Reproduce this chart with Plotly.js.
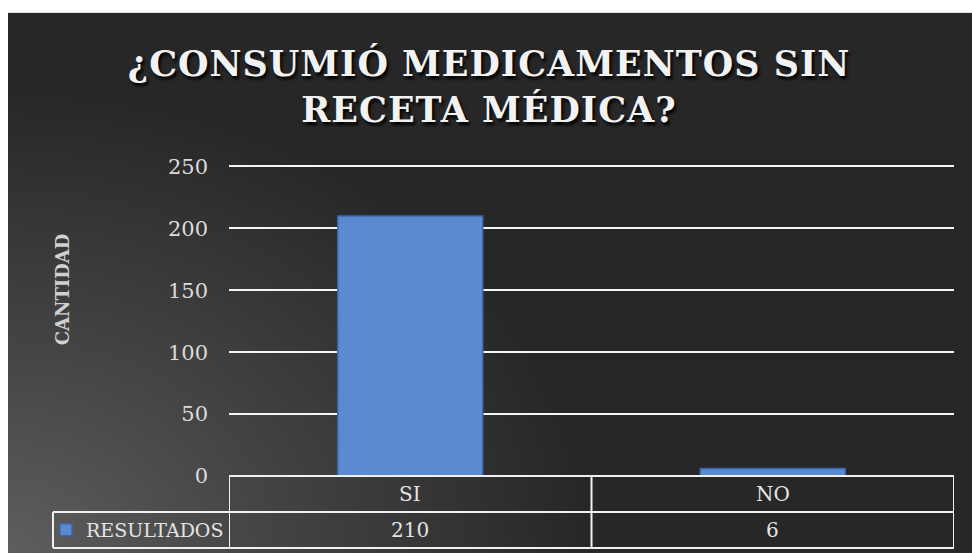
<!DOCTYPE html>
<html>
<head>
<meta charset="utf-8">
<script src="https://cdn.plot.ly/plotly-3.0.1.min.js"></script>
<style>
  html, body { margin: 0; padding: 0; background: #ffffff; }
  #chart { width: 972px; height: 553px; }
  .gtitle { letter-spacing: 1px; }
</style>
</head>
<body>
<div id="chart"></div>
<script>
// ---- data ----
const categories = ['SI', 'NO'];
const values = [210, 6];
const seriesName = 'RESULTADOS';
const yTickValues = [0, 50, 100, 150, 200, 250];
const chartTitle = '¿CONSUMIÓ MEDICAMENTOS SIN<br>RECETA MÉDICA?';
const yTitle = 'CANTIDAD';

// ---- geometry (pixels) ----
const W = 972, H = 553;
const yMax = 252;
const M = { l: 229, r: 18, t: 163.5, b: 77, autoexpand: false };
const PW = W - M.l - M.r, PH = H - M.t - M.b;
const px2u = x => (x - M.l) / PW;
const py2v = y => (H - M.b - y) / PH;

// background gradient (decorative)
const bgW = W - 8, bgH = H - 12;
const bgSvg =
  '<svg xmlns="http://www.w3.org/2000/svg" width="' + bgW + '" height="' + bgH + '" viewBox="0 0 ' + bgW + ' ' + bgH + '" preserveAspectRatio="none">' +
  '<defs><radialGradient id="g" gradientUnits="userSpaceOnUse" cx="0" cy="' + bgH + '" r="580" gradientTransform="translate(0,' + bgH + ') scale(1,0.8) translate(0,-' + bgH + ')">' +
  '<stop offset="0" stop-color="#5e5e5e"/><stop offset="0.45" stop-color="#444444"/><stop offset="1" stop-color="#272727"/></radialGradient></defs>' +
  '<rect width="' + bgW + '" height="' + bgH + '" fill="#272727"/>' +
  '<rect width="' + bgW + '" height="' + bgH + '" fill="url(#g)"/></svg>';
const bgSrc = 'data:image/svg+xml;charset=utf-8,' + encodeURIComponent(bgSvg);

const lineColor = '#f0f0f0';
const textColor = '#e4e4e4';
const serif = 'DejaVu Serif, Liberation Serif, serif';

// table rows (paper y)
const rowTop = 0, rowMid = py2v(512), rowBot = py2v(548);
const leftEdge = px2u(53);

const shapes = [];
shapes.push({ type: 'line', xref: 'paper', yref: 'paper', x0: 0, x1: 1, y0: rowTop, y1: rowTop, line: { color: lineColor, width: 2 } });
shapes.push({ type: 'line', xref: 'paper', yref: 'paper', x0: leftEdge, x1: 1, y0: rowMid, y1: rowMid, line: { color: lineColor, width: 2 } });
shapes.push({ type: 'line', xref: 'paper', yref: 'paper', x0: leftEdge, x1: 1, y0: rowBot, y1: rowBot, line: { color: lineColor, width: 2 } });
shapes.push({ type: 'line', xref: 'paper', yref: 'paper', x0: leftEdge, x1: leftEdge, y0: rowMid, y1: rowBot, line: { color: lineColor, width: 2 } });
for (let i = 0; i <= categories.length; i++) {
  const xb = i - 0.5;
  shapes.push({ type: 'line', xref: 'x', yref: 'paper', x0: xb, x1: xb, y0: rowTop, y1: rowBot, line: { color: lineColor, width: 2 } });
}

const annotations = [];
categories.forEach((c, i) => {
  annotations.push({ x: c, xref: 'x', y: (rowTop + rowMid) / 2, yref: 'paper', text: c, showarrow: false,
    xanchor: 'center', yanchor: 'middle', font: { family: serif, size: 20, color: textColor } });
  annotations.push({ x: c, xref: 'x', y: (rowMid + rowBot) / 2, yref: 'paper', text: String(values[i]), showarrow: false,
    xanchor: 'center', yanchor: 'middle', font: { family: serif, size: 20, color: textColor } });
});
// y axis title (placed as a rotated annotation to match vertical offset)
annotations.push({ x: px2u(62), xref: 'paper', y: py2v(289), yref: 'paper', text: yTitle, showarrow: false,
  textangle: -90, xanchor: 'center', yanchor: 'middle',
  font: { family: serif, size: 18, color: '#d0d0d0', weight: 'bold' } });

const trace = {
  type: 'bar',
  x: categories,
  y: values,
  name: seriesName,
  showlegend: true,
  marker: { color: '#5a8bd0', line: { color: '#3b67a6', width: 1.5 } },
  hoverinfo: 'x+y'
};

const layout = {
  width: W, height: H,
  margin: M,
  paper_bgcolor: '#ffffff',
  plot_bgcolor: 'rgba(0,0,0,0)',
  bargap: 0.6,
  showlegend: true,
  legend: {
    x: px2u(46), xref: 'paper', xanchor: 'left',
    y: (rowMid + rowBot) / 2, yref: 'paper', yanchor: 'middle',
    bgcolor: 'rgba(0,0,0,0)', borderwidth: 0,
    font: { family: serif, size: 19, color: textColor },
    itemwidth: 30
  },
  title: {
    text: chartTitle,
    x: 489 / W, xref: 'container', xanchor: 'center',
    y: 1 - 76 / H, yref: 'container', yanchor: 'top',
    font: { family: serif, size: 35, color: '#f2f2f2', weight: 'bold', shadow: '2px 3px 3px #000000' }
  },
  xaxis: {
    type: 'category',
    range: [-0.5, categories.length - 0.5],
    showticklabels: false, showgrid: false, zeroline: false, showline: false, ticks: ''
  },
  yaxis: {
    range: [0, yMax],
    tickvals: yTickValues,
    ticktext: yTickValues.map(String),
    showgrid: true, gridcolor: '#f5f5f5', gridwidth: 2,
    zeroline: false, showline: false, ticks: '',
    ticklabelstandoff: 20,
    tickfont: { family: serif, size: 21, color: '#dcdcdc' }
  },
  images: [{
    source: bgSrc, xref: 'paper', yref: 'paper',
    x: px2u(8), y: py2v(12), sizex: bgW / PW, sizey: bgH / PH,
    xanchor: 'left', yanchor: 'top', sizing: 'stretch', layer: 'below'
  }],
  shapes: shapes,
  annotations: annotations
};

Plotly.newPlot('chart', [trace], layout, { displayModeBar: false });
</script>
</body>
</html>
